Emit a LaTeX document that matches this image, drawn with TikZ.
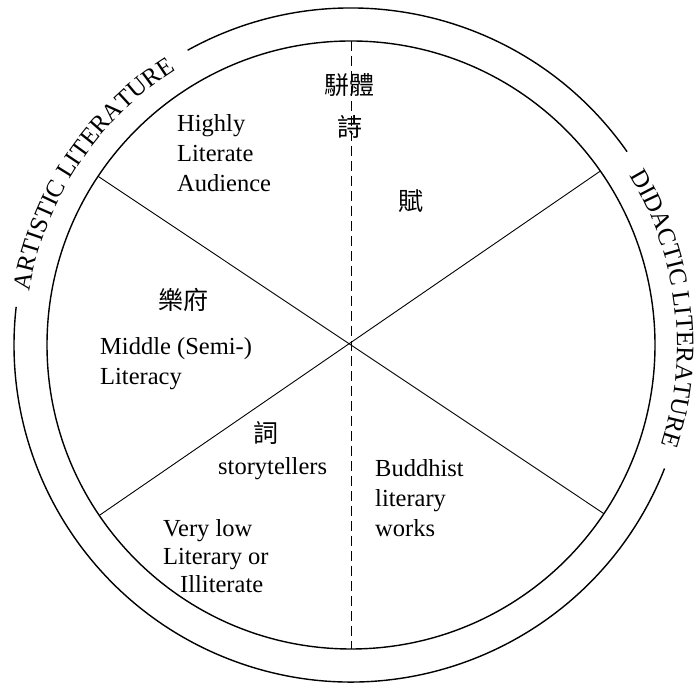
\documentclass[tikz,border=0pt]{standalone}
\usepackage{fontspec}
\setmainfont{Liberation Serif}
\newfontfamily\cjk{Noto Sans CJK TC}
\usetikzlibrary{decorations.text}
\tikzset{ring/.style={line width=1.4pt},
         chord/.style={line width=.9pt},
         divider/.style={line width=.9pt,dash pattern=on 10pt off 5pt},
         lbl/.style={font=\fontsize{24.5}{30}\selectfont,align=left,inner sep=0pt,anchor=base west},
         han/.style={font=\cjk\fontsize{25}{25}\selectfont,inner sep=0pt},
         rim/.style={decorate,decoration={text along path,text align=center,
           text={|\fontsize{25}{25}\selectfont|#1}}}}
\begin{document}
\begin{tikzpicture}[x=1pt,y=1pt]
  \useasboundingbox (0,0) rectangle (699,684);
  \coordinate (c) at (351,339);
  \draw[ring] (c) circle[radius=304pt];
  \draw[ring] ([shift={(119:337pt)}]c) arc[start angle=119,end angle=35,radius=337pt];
  \draw[ring] ([shift={(-21.5:337pt)}]c) arc[start angle=-21.5,end angle=-186.5,radius=337pt];
  \path[rim=ARTISTIC LITERATURE] ([shift={(173.5:326pt)}]c) arc[start angle=173.5,end angle=119.5,radius=326pt];
  \path[rim=DIDACTIC LITERATURE] ([shift={(35:326pt)}]c) arc[start angle=35,end angle=-21.5,radius=326pt];
  \draw[chord] ([shift={(146.3:304pt)}]c) -- ([shift={(-33.7:304pt)}]c);
  \draw[chord] ([shift={(34.9:304pt)}]c) -- ([shift={(214.1:304pt)}]c);
  \draw[divider] ([shift={(90:304pt)}]c) -- ([shift={(-90:304pt)}]c);
  \node[han] (pianti) at (349,599) {駢體};
  \node[han] (shi) at (350,557) {詩};
  \node[han] (fu) at (411,483) {賦};
  \node[han] (yuefu) at (183,384) {樂府};
  \node[han] (ci) at (266,251) {詞};
  \node[lbl] (highly) at (177,492) {Highly\\Literate\\Audience};
  \node[lbl] (middle) at (100,299) {Middle (Semi-)\\Literacy};
  \node[lbl] (story) at (218,209) {storytellers};
  \node[lbl] (verylow) at (163,91) {Very low\\[-2pt]Literary or\\[-2pt]\hspace*{17pt}Illiterate};
  \node[lbl] (buddhist) at (375,147) {Buddhist\\literary\\works};
\end{tikzpicture}
\end{document}
